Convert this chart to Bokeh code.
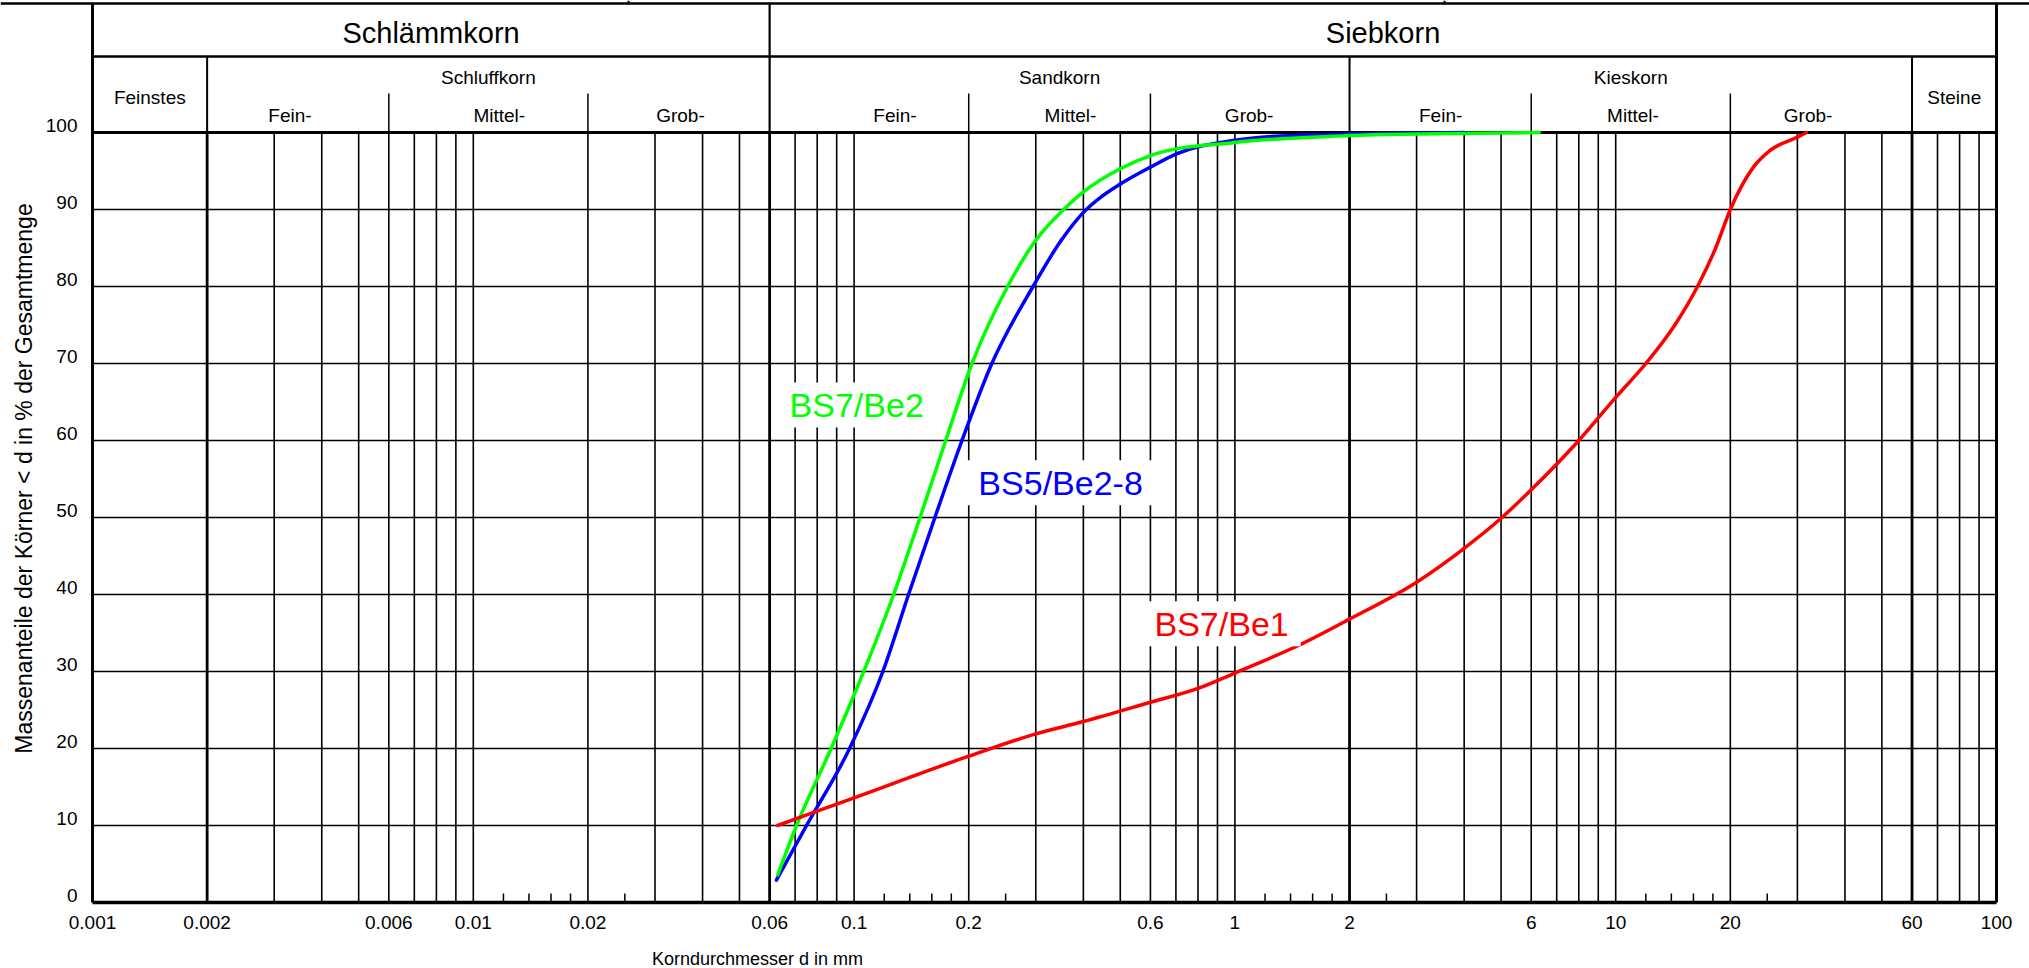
import numpy as np
from bokeh.plotting import figure
from bokeh.models import Range1d
from bokeh.core.properties import value
from bokeh.embed import file_html
from bokeh.resources import INLINE

# ---------------------------------------------------------------------------
# Grain size distribution (Körnungslinie) – values read as (d in mm, % passing)
# ---------------------------------------------------------------------------
SAMPLE_NAMES = ["BS5/Be2-8", "BS7/Be2", "BS7/Be1"]
SAMPLE_COLORS = ["#0000ff", "#00ff00", "#ff0000"]

be2_8_d = [0.0625, 0.075, 0.0973, 0.119, 0.139, 0.163, 0.192, 0.23, 0.295,
           0.35, 0.398, 0.45, 0.5, 0.6, 0.7, 1.0, 2.0, 4.0]
be2_8_p = [2.9, 10, 20, 30, 40, 50, 60, 70, 80, 86, 89.5, 91.8, 93.3, 95.5,
           97.2, 99.0, 99.8, 100]

be2_d = [0.063, 0.0706, 0.087, 0.106, 0.127, 0.149, 0.174, 0.204, 0.253,
         0.3, 0.355, 0.4, 0.5, 0.6, 1.0, 2.0, 6.3]
be2_p = [3.6, 10, 20, 30, 40, 50, 60, 70, 80, 86, 90, 92.3, 95.3, 97.0,
         98.7, 99.6, 100]

be1_d = [0.063, 0.1, 0.2, 0.3, 0.4, 0.6, 0.8, 1.0, 1.5, 2, 3, 4, 5, 6,
         8, 10, 12, 14.3, 16.4, 18.3, 20, 23, 25.5, 30, 31.7]
be1_p = [10, 13.6, 19.0, 21.9, 23.5, 26.0, 27.8, 29.8, 33.6, 36.8,
         41.6, 46.0, 49.9, 53.6, 60, 65.6, 70, 75, 80, 85, 90,
         95.5, 97.7, 99.4, 100]

SAMPLE_D = [be2_8_d, be2_d, be1_d]
SAMPLE_P = [be2_8_p, be2_p, be1_p]

# label anchor (left end of text, vertical centre of capitals)
LABEL_X_MM = [0.212, 0.0677, 0.615]
LABEL_Y_PCT = [54.5, 64.6, 36.2]

# axis ticks
X_TICKS = [0.001, 0.002, 0.006, 0.01, 0.02, 0.06, 0.1, 0.2, 0.6, 1, 2, 6,
           10, 20, 60, 100]
X_TICK_LABELS = ["0.001", "0.002", "0.006", "0.01", "0.02", "0.06", "0.1",
                 "0.2", "0.6", "1", "2", "6", "10", "20", "60", "100"]
Y_TICKS = [0, 10, 20, 30, 40, 50, 60, 70, 80, 90, 100]
Y_TICK_LABELS = ["0", "10", "20", "30", "40", "50", "60", "70", "80", "90",
                 "100"]

# full-height grid lines and short sieve marks on the abscissa
GRID_MM = [0.002, 0.003, 0.004, 0.005, 0.006, 0.007, 0.008, 0.009,
           0.01, 0.02, 0.03, 0.04, 0.05, 0.06, 0.07, 0.08, 0.09,
           0.1, 0.2, 0.3, 0.4, 0.5, 0.6, 0.7, 0.8, 0.9,
           1, 2, 3, 4, 5, 6, 7, 8, 9,
           10, 20, 30, 40, 50, 60, 70, 80, 90]
BOLD_GRID_MM = [0.002, 0.06, 2, 60]
SHORT_TICK_MM = [0.012, 0.014, 0.016, 0.018, 0.025,
                 0.12, 0.14, 0.16, 0.18, 0.25,
                 1.2, 1.4, 1.6, 1.8, 2.5,
                 12, 14, 16, 18, 25]
GRID_PCT = [10, 20, 30, 40, 50, 60, 70, 80, 90]

# soil classes (DIN 4022)
MAIN_CLASSES = ["Schlämmkorn", "Siebkorn"]
MAIN_BOUNDS = [(0.001, 0.06), (0.06, 100)]
CLASSES = ["Feinstes", "Schluffkorn", "Sandkorn", "Kieskorn", "Steine"]
CLASS_BOUNDS = [(0.001, 0.002), (0.002, 0.06), (0.06, 2), (2, 60), (60, 100)]
SUB_BOUNDS = [0.006, 0.02, 0.2, 0.6, 6, 20]
SUB_LABELS = ["Fein-", "Mittel-", "Grob-"] * 3
SUB_LABEL_MM = [0.0033, 0.0117, 0.035, 0.128, 0.37, 1.09, 3.47, 11.1, 32]

X_TITLE = "Korndurchmesser d in mm"
Y_TITLE = "Massenanteile der Körner < d in % der Gesamtmenge"

# ---------------------------------------------------------------------------
# page geometry
# ---------------------------------------------------------------------------
W, H = 2029, 968
PX_X0, PX_X1 = 92, 1996          # 0.001 mm ... 100 mm
PY_100, PY_0 = 132, 902          # 100 % ... 0 %
PX_DEC = (PX_X1 - PX_X0) / 5.0
PX_PCT = (PY_0 - PY_100) / 100.0


def mm_at(px):
    return 10 ** (-3 + (px - PX_X0) / PX_DEC)


def pct_at(py):
    return (PY_0 - py) / PX_PCT


def smooth_segments(d, pc):
    """Shape-preserving cubic through the read points (weighted central
    tangents, limited so the curve stays monotone), returned as Bezier
    segments in data units of the log/linear diagram."""
    X = np.log10(np.asarray(d, float)) * PX_DEC
    Y = np.asarray(pc, float) * PX_PCT
    h = np.diff(X)
    s = np.diff(Y) / h
    n = len(X)
    m = np.zeros(n)
    m[0], m[-1] = s[0], s[-1]
    for i in range(1, n - 1):
        s0, s1 = s[i - 1], s[i]
        if s0 * s1 <= 0:
            m[i] = 0.0
            continue
        h0, h1 = h[i - 1], h[i]
        mi = (h1 * s0 + h0 * s1) / (h0 + h1)
        lim = 3 * min(abs(s0), abs(s1))
        m[i] = np.sign(mi) * min(abs(mi), lim)
    cx0 = X[:-1] + h / 3
    cy0 = Y[:-1] + m[:-1] * h / 3
    cx1 = X[1:] - h / 3
    cy1 = Y[1:] - m[1:] * h / 3
    to_mm = lambda v: 10 ** (v / PX_DEC)
    to_pct = lambda v: v / PX_PCT
    return dict(x0=to_mm(X[:-1]), y0=to_pct(Y[:-1]),
                x1=to_mm(X[1:]), y1=to_pct(Y[1:]),
                cx0=to_mm(cx0), cy0=to_pct(cy0),
                cx1=to_mm(cx1), cy1=to_pct(cy1))


FONT = value("Liberation Sans")
INK = "#000000"
MID = value("middle")

p = figure(width=W, height=H, x_axis_type="log",
           x_axis_location=None, y_axis_location=None,
           x_range=Range1d(mm_at(0), mm_at(W)),
           y_range=Range1d(pct_at(H), pct_at(0)),
           output_backend="svg", toolbar_location=None, min_border=0)
p.outline_line_color = None
p.background_fill_color = "white"
p.border_fill_color = "white"
p.grid.visible = False

# --- grid -----------------------------------------------------------------
thin = [d for d in GRID_MM if d not in BOLD_GRID_MM]
p.segment(x0=thin, y0=[0] * len(thin), x1=thin, y1=[100] * len(thin),
          line_color=INK, line_width=1.6)
p.segment(x0=BOLD_GRID_MM, y0=[0] * 4, x1=BOLD_GRID_MM, y1=[100] * 4,
          line_color=INK, line_width=2.8)
p.segment(x0=[0.001] * len(GRID_PCT), y0=GRID_PCT,
          x1=[100] * len(GRID_PCT), y1=GRID_PCT,
          line_color=INK, line_width=1.7)
tick_len = 9 / PX_PCT
p.segment(x0=SHORT_TICK_MM, y0=[0] * len(SHORT_TICK_MM),
          x1=SHORT_TICK_MM, y1=[tick_len] * len(SHORT_TICK_MM),
          line_color=INK, line_width=1.5)

# --- header table above the diagram --------------------------------------
y_top = pct_at(3)
y_row1 = pct_at(56)
y_sub = pct_at(93)
x_lo, x_hi = mm_at(0), mm_at(W)
p.segment(x0=[x_lo], y0=[y_top], x1=[x_hi], y1=[y_top],
          line_color=INK, line_width=2.5)
p.segment(x0=[mm_at(628), mm_at(1444)], y0=[y_top] * 2,
          x1=[mm_at(628), mm_at(1444)], y1=[pct_at(0)] * 2,
          line_color=INK, line_width=2)
p.segment(x0=[0.001], y0=[y_row1], x1=[100], y1=[y_row1],
          line_color=INK, line_width=2.5)
p.segment(x0=[0.06], y0=[100], x1=[0.06], y1=[y_top],
          line_color=INK, line_width=2.2)
class_div = [0.002, 2, 60]
p.segment(x0=class_div, y0=[100] * 3, x1=class_div, y1=[y_row1] * 3,
          line_color=INK, line_width=2)
p.segment(x0=SUB_BOUNDS, y0=[100] * len(SUB_BOUNDS), x1=SUB_BOUNDS,
          y1=[y_sub] * len(SUB_BOUNDS), line_color=INK, line_width=1.5)

# frame of diagram and header
p.segment(x0=[0.001, 100], y0=[0, 0], x1=[0.001, 100], y1=[y_top, y_top],
          line_color=INK, line_width=3)
p.segment(x0=[0.001], y0=[100], x1=[100], y1=[100],
          line_color=INK, line_width=3)
p.segment(x0=[0.001], y0=[0], x1=[100], y1=[0],
          line_color=INK, line_width=3.5)

# header texts
p.text(x=[np.sqrt(a * b) for a, b in MAIN_BOUNDS], y=[pct_at(32)] * 2,
       text=MAIN_CLASSES, text_font=FONT, text_font_size=value("29px"),
       text_color=INK, text_align=value("center"), text_baseline=MID)
cls_x = [np.sqrt(a * b) for a, b in CLASS_BOUNDS]
cls_y = [pct_at(97), pct_at(77), pct_at(77), pct_at(77), pct_at(97)]
p.text(x=cls_x, y=cls_y, text=CLASSES, text_font=FONT,
       text_font_size=value("19px"), text_color=INK,
       text_align=value("center"), text_baseline=MID)
p.text(x=SUB_LABEL_MM, y=[pct_at(115)] * len(SUB_LABELS), text=SUB_LABELS,
       text_font=FONT, text_font_size=value("19px"), text_color=INK,
       text_align=value("center"), text_baseline=MID)

# --- grading curves -------------------------------------------------------
for d, pc, col in zip(SAMPLE_D, SAMPLE_P, SAMPLE_COLORS):
    seg = smooth_segments(d, pc)
    p.bezier(x0=seg["x0"], y0=seg["y0"], x1=seg["x1"], y1=seg["y1"],
             cx0=seg["cx0"], cy0=seg["cy0"], cx1=seg["cx1"], cy1=seg["cy1"],
             line_color=col, line_width=3.5, line_cap="round")

# sample labels on white boxes
LABEL_PX = 34
lbl_w = [4.836 * LABEL_PX, 3.947 * LABEL_PX, 3.947 * LABEL_PX]
for name, col, lx, ly, tw in zip(SAMPLE_NAMES, SAMPLE_COLORS, LABEL_X_MM,
                                 LABEL_Y_PCT, lbl_w):
    left_px = PX_X0 + (np.log10(lx) + 3) * PX_DEC
    p.rect(x=[mm_at(left_px + tw / 2)], y=[ly],
           width=tw + 24, height=45, width_units="screen",
           height_units="screen", fill_color="white", line_color=None)
    p.text(x=[lx], y=[ly], text=[name], text_font=FONT,
           text_font_size=value(f"{LABEL_PX}px"), text_color=col,
           text_align=value("left"), text_baseline=MID)

# --- tick labels and axis titles -------------------------------------------
p.text(x=X_TICKS, y=[pct_at(922)] * len(X_TICKS), text=X_TICK_LABELS,
       text_font=FONT, text_font_size=value("19px"), text_color=INK,
       text_align=value("center"), text_baseline=MID)
p.text(x=[0.001] * len(Y_TICKS), y=Y_TICKS, text=Y_TICK_LABELS,
       x_offset=-15, y_offset=-7, text_font=FONT,
       text_font_size=value("19px"), text_color=INK,
       text_align=value("right"), text_baseline=MID)
p.text(x=[mm_at(757)], y=[pct_at(958)], text=[X_TITLE], text_font=FONT,
       text_font_size=value("18px"), text_color=INK,
       text_align=value("center"), text_baseline=MID)
p.text(x=[mm_at(23)], y=[pct_at(478)], text=[Y_TITLE], angle=np.pi / 2,
       text_font=FONT, text_font_size=value("23px"), text_color=INK,
       text_align=value("center"), text_baseline=MID)

open("out.html", "w").write(file_html(p, INLINE))
